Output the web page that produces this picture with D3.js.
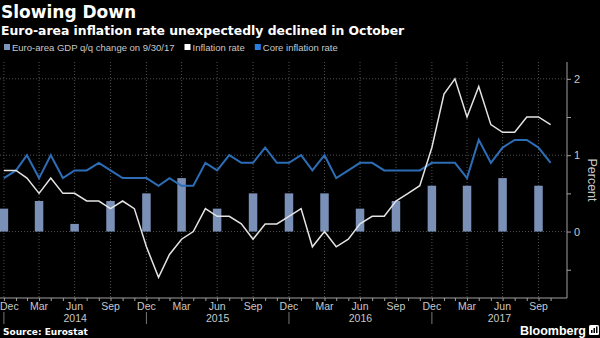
<!DOCTYPE html>
<html>
<head>
<meta charset="utf-8">
<script src="https://cdn.jsdelivr.net/npm/d3@7"></script>
<style>
  body { margin: 0; background: #000; }
  svg { display: block; }
</style>
</head>
<body>
<svg id="chart" width="600" height="338"></svg>
<script>
// monthly readings, Dec 2013 .. Oct 2017
const months = [
  "2013-12",
  "2014-01", "2014-02", "2014-03", "2014-04", "2014-05", "2014-06",
  "2014-07", "2014-08", "2014-09", "2014-10", "2014-11", "2014-12",
  "2015-01", "2015-02", "2015-03", "2015-04", "2015-05", "2015-06",
  "2015-07", "2015-08", "2015-09", "2015-10", "2015-11", "2015-12",
  "2016-01", "2016-02", "2016-03", "2016-04", "2016-05", "2016-06",
  "2016-07", "2016-08", "2016-09", "2016-10", "2016-11", "2016-12",
  "2017-01", "2017-02", "2017-03", "2017-04", "2017-05", "2017-06",
  "2017-07", "2017-08", "2017-09", "2017-10"
];
const inflation = [
  0.8,
  0.8, 0.7, 0.5, 0.7, 0.5, 0.5, 0.4, 0.4, 0.3, 0.4, 0.3, -0.2,
  -0.6, -0.3, -0.1, 0.0, 0.3, 0.2, 0.2, 0.1, -0.1, 0.1, 0.1, 0.2,
  0.3, -0.2, 0.0, -0.2, -0.1, 0.1, 0.2, 0.2, 0.4, 0.5, 0.6, 1.1,
  1.8, 2.0, 1.5, 1.9, 1.4, 1.3, 1.3, 1.5, 1.5, 1.4
];
const coreInflation = [
  0.7,
  0.8, 1.0, 0.7, 1.0, 0.7, 0.8, 0.8, 0.9, 0.8, 0.7, 0.7, 0.7,
  0.6, 0.7, 0.6, 0.6, 0.9, 0.8, 1.0, 0.9, 0.9, 1.1, 0.9, 0.9,
  1.0, 0.8, 1.0, 0.7, 0.8, 0.9, 0.9, 0.8, 0.8, 0.8, 0.8, 0.9,
  0.9, 0.9, 0.7, 1.2, 0.9, 1.1, 1.2, 1.2, 1.1, 0.9
];

// quarterly GDP q/q change
const quarters = [
  "2013-12", "2014-03", "2014-06", "2014-09", "2014-12", "2015-03",
  "2015-06", "2015-09", "2015-12", "2016-03", "2016-06", "2016-09",
  "2016-12", "2017-03", "2017-06", "2017-09"
];
const gdpChange = [0.3, 0.4, 0.1, 0.4, 0.5, 0.7, 0.3, 0.5, 0.5, 0.5, 0.3, 0.4, 0.6, 0.6, 0.7, 0.6];

const years = ["2014", "2015", "2016", "2017"];
const yTicks = [-0.5, 0, 0.5, 1, 1.5, 2];
const yLabels = [0, 1, 2];

const legendItems = [
  {label: "Euro-area GDP q/q change on 9/30/17", color: "#7d93b9"},
  {label: "Inflation rate", color: "#ffffff"},
  {label: "Core inflation rate", color: "#2a7de1"}
];

const colors = {
  bar: "#7a90b7",
  inflation: "#e4e4e4",
  core: "#2c6db6",
  grid: "#505050",
  axis: "#a0a0a0",
  text: "#c8c8c8"
};

const plot = {left: 0, right: 567, top: 62, bottom: 298};
const fontSans = "'Liberation Sans', Arial, sans-serif";
const fontHead = "'DejaVu Sans', Verdana, sans-serif";

// points sit at the end of each month, so a "Dec" tick lines up with the new year
const parseMonth = d3.timeParse("%Y-%m");
const monthEnd = s => d3.timeMonth.offset(parseMonth(s), 1);

const svg = d3.select("#chart");
svg.append("rect").attr("width", 600).attr("height", 338).attr("fill", "#000");

const x = d3.scaleTime()
  .domain([d3.timeDay.offset(monthEnd(months[0]), -10),
           d3.timeDay.offset(monthEnd(months[months.length - 1]), 42)])
  .range([plot.left, plot.right]);

const y = d3.scaleLinear()
  .domain([-0.87, 2.22])
  .range([plot.bottom, plot.top]);

// titles
svg.append("text")
  .attr("x", 1).attr("y", 18)
  .attr("fill", "#fff")
  .style("font", `bold 17px ${fontHead}`)
  .text("Slowing Down");
svg.append("text")
  .attr("x", 1).attr("y", 34.5)
  .attr("fill", "#fff")
  .style("font", `bold 12.4px ${fontHead}`)
  .text("Euro-area inflation rate unexpectedly declined in October");

// legend
let lx = 4;
legendItems.forEach(item => {
  const g = svg.append("g").attr("transform", `translate(${lx},0)`);
  g.append("rect")
    .attr("x", 0).attr("y", 44)
    .attr("width", 6).attr("height", 6)
    .attr("fill", item.color);
  const t = g.append("text")
    .attr("x", 8).attr("y", 50.5)
    .attr("fill", colors.text)
    .style("font", `9.5px ${fontSans}`)
    .text(item.label);
  lx += 8 + t.node().getComputedTextLength() + 10;
});

// grid
const grid = svg.append("g");
grid.selectAll("line.v")
  .data(quarters)
  .join("line")
  .attr("class", "v")
  .attr("x1", d => x(monthEnd(d))).attr("x2", d => x(monthEnd(d)))
  .attr("y1", plot.top).attr("y2", plot.bottom)
  .attr("stroke", colors.grid)
  .attr("stroke-dasharray", "1,2");
grid.selectAll("line.h")
  .data(yLabels)
  .join("line")
  .attr("class", "h")
  .attr("x1", plot.left).attr("x2", plot.right)
  .attr("y1", d => y(d)).attr("y2", d => y(d))
  .attr("stroke", colors.grid)
  .attr("stroke-dasharray", "1,2");

// GDP bars
const barWidth = 8.5;
svg.append("g")
  .selectAll("rect")
  .data(quarters)
  .join("rect")
  .attr("x", d => x(monthEnd(d)) - barWidth / 2)
  .attr("width", barWidth)
  .attr("y", (d, i) => y(Math.max(0, gdpChange[i])))
  .attr("height", (d, i) => Math.abs(y(gdpChange[i]) - y(0)))
  .attr("fill", colors.bar);

// lines
const line = d3.line()
  .x(d => x(monthEnd(d[0])))
  .y(d => y(d[1]));

svg.append("path")
  .datum(d3.zip(months, coreInflation))
  .attr("d", line)
  .attr("fill", "none")
  .attr("stroke", colors.core)
  .attr("stroke-width", 2)
  .attr("stroke-linejoin", "miter");

svg.append("path")
  .datum(d3.zip(months, inflation))
  .attr("d", line)
  .attr("fill", "none")
  .attr("stroke", colors.inflation)
  .attr("stroke-width", 1.5)
  .attr("stroke-linejoin", "miter");

// right axis
const yAxis = svg.append("g")
  .attr("transform", `translate(${plot.right},0)`)
  .call(d3.axisRight(y)
    .tickValues(yTicks)
    .tickSize(4)
    .tickPadding(3)
    .tickFormat(d => yLabels.includes(d) ? d3.format("d")(d) : ""));
yAxis.select(".domain")
  .attr("d", `M0,${plot.top}V${plot.bottom}`)
  .attr("stroke", colors.axis);
yAxis.selectAll(".tick line").attr("stroke", colors.axis);
yAxis.selectAll(".tick text")
  .attr("fill", colors.text)
  .style("font", `11px ${fontSans}`);

svg.append("text")
  .attr("transform", `translate(588,${(plot.top + plot.bottom) / 2}) rotate(90)`)
  .attr("text-anchor", "middle")
  .attr("fill", colors.text)
  .style("font", `12.5px ${fontSans}`)
  .text("Percent");

// bottom axis: monthly ticks, quarterly labels
const xAxis = svg.append("g")
  .attr("transform", `translate(0,${plot.bottom})`)
  .call(d3.axisBottom(x)
    .tickValues(months.map(monthEnd))
    .tickSize(3)
    .tickFormat(""));
xAxis.select(".domain")
  .attr("d", `M${plot.left},0H${plot.right}`)
  .attr("stroke", colors.axis);
xAxis.selectAll(".tick line").attr("stroke", colors.axis);

const monthLabels = svg.append("g")
  .selectAll("text")
  .data(quarters)
  .join("text")
  .attr("x", d => x(monthEnd(d)))
  .attr("y", 309.5)
  .attr("text-anchor", "middle")
  .attr("fill", colors.text)
  .style("font", `10.5px ${fontSans}`)
  .text(d => d3.timeFormat("%b")(parseMonth(d)));
// keep the first label inside the frame
monthLabels.each(function() {
  const w = this.getComputedTextLength();
  const cx = +this.getAttribute("x");
  if (cx - w / 2 < 0) this.setAttribute("x", w / 2);
});

// year bands
const yearStart = yr => new Date(+yr, 0, 1);
svg.append("g")
  .selectAll("line")
  .data(years)
  .join("line")
  .attr("x1", d => x(yearStart(d))).attr("x2", d => x(yearStart(d)))
  .attr("y1", 312).attr("y2", 324)
  .attr("stroke", "#777");
svg.append("g")
  .selectAll("text")
  .data(years)
  .join("text")
  .attr("x", (d, i) => {
    const a = x(yearStart(d));
    const b = i < years.length - 1 ? x(yearStart(years[i + 1])) : plot.right;
    return (a + b) / 2;
  })
  .attr("y", 321.5)
  .attr("text-anchor", "middle")
  .attr("fill", colors.text)
  .style("font", `10.5px ${fontSans}`)
  .text(d => d);

// footer
svg.append("text")
  .attr("x", 3).attr("y", 335)
  .attr("fill", "#fff")
  .style("font", `bold 9px ${fontHead}`)
  .text("Source: Eurostat");

svg.append("text")
  .attr("x", 586).attr("y", 335)
  .attr("text-anchor", "end")
  .attr("fill", "#fff")
  .style("font", `600 12.5px ${fontSans}`)
  .text("Bloomberg");

// terminal-style logo mark
const logo = svg.append("g").attr("transform", "translate(589,325)");
logo.append("rect")
  .attr("width", 10).attr("height", 10).attr("rx", 1.5)
  .attr("fill", "#fff");
[[2, 5, 3], [4.5, 3, 5], [7, 1.5, 6.5]].forEach(([bx, by, bh]) => {
  logo.append("rect")
    .attr("x", bx).attr("y", by)
    .attr("width", 1.5).attr("height", bh)
    .attr("fill", "#000");
});
</script>
</body>
</html>
